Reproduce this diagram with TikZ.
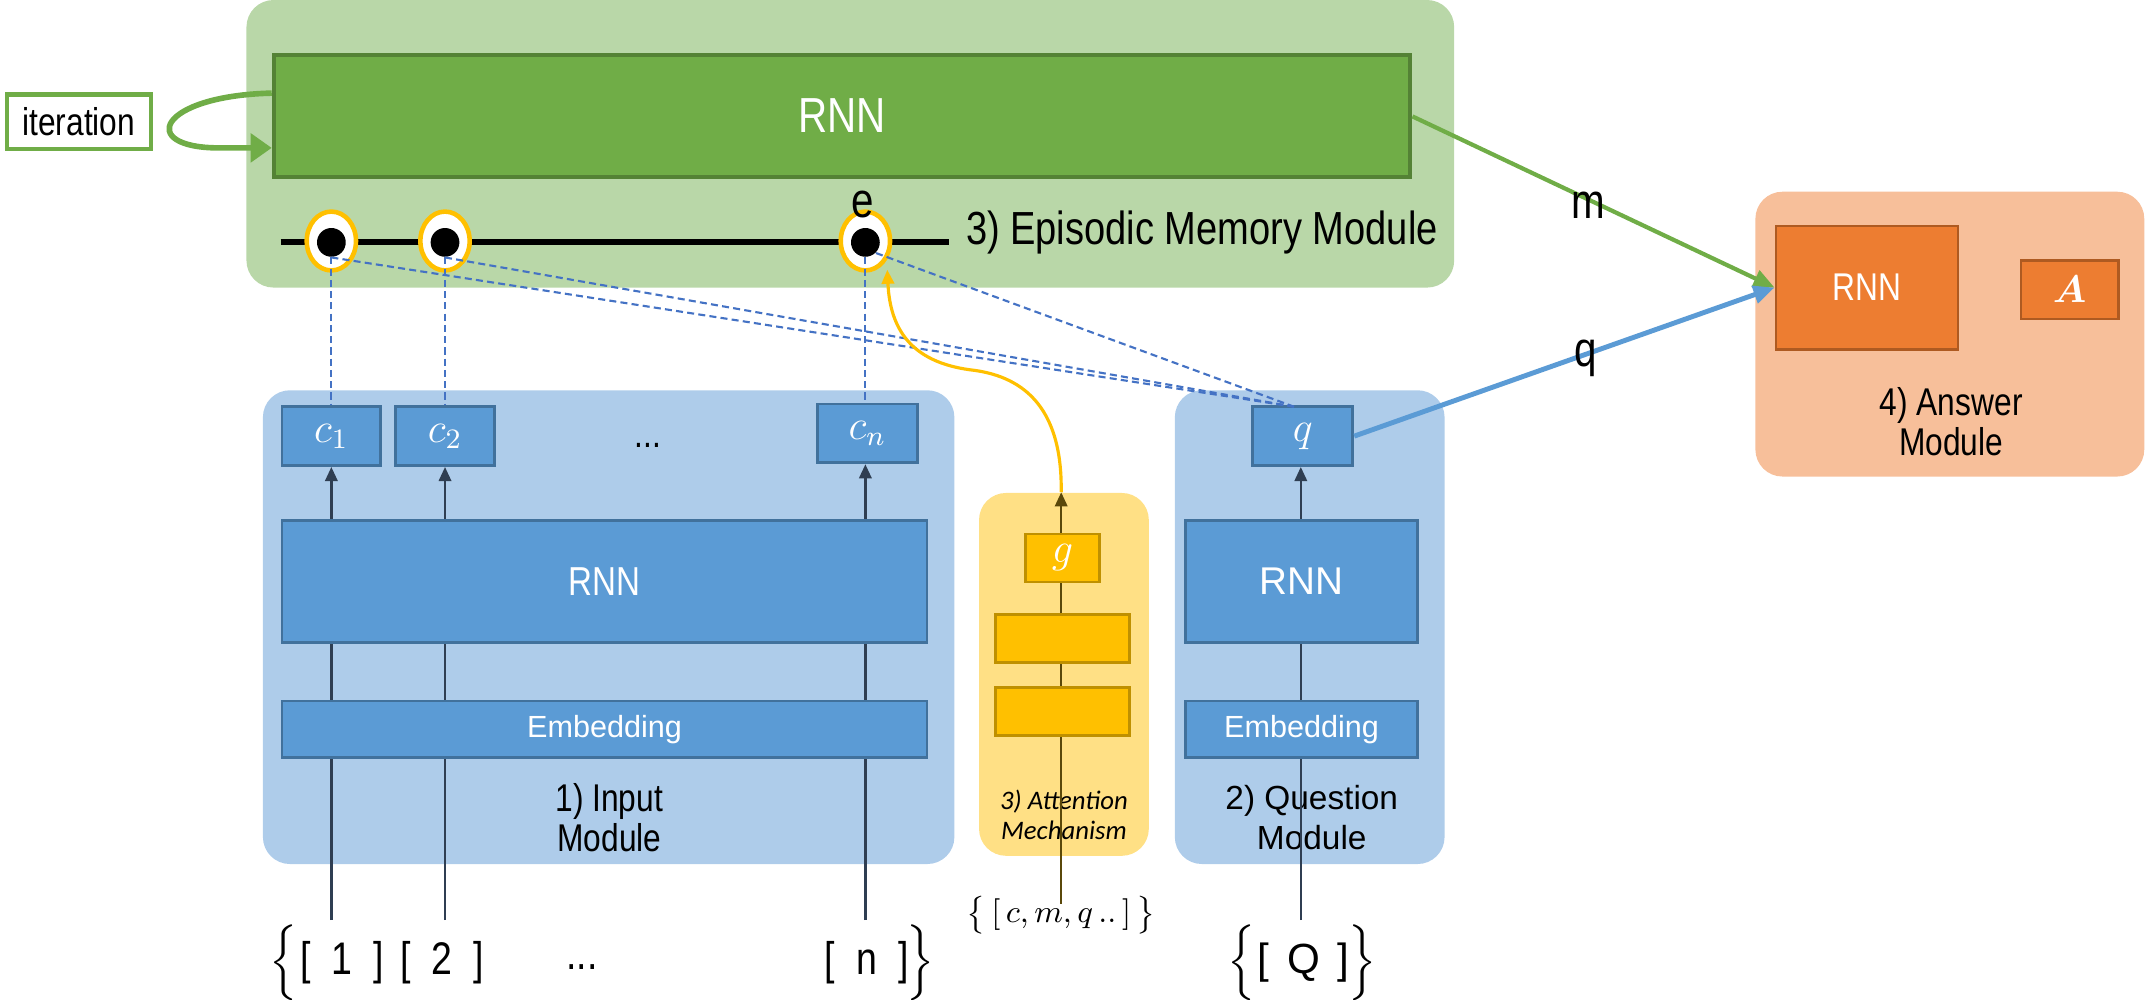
\documentclass[tikz,border=0pt]{standalone}
\usepackage{amsmath}
\usepackage{fontspec}
\setmainfont{Liberation Sans}
\newfontfamily\narrowfont[FakeStretch=0.82]{Liberation Sans}
\newfontfamily\calfont{Carlito}
\usepackage{tikz}
\usetikzlibrary{shapes.geometric, positioning}
\usetikzlibrary{arrows.meta}
\tikzset{>={Triangle[width=3.5pt,length=4pt]}}

\definecolor{epiback}{RGB}{185,215,168}
\definecolor{epigreen}{RGB}{112,173,71}
\definecolor{epiborder}{RGB}{84,130,53}
\definecolor{blueback}{RGB}{174,204,234}
\definecolor{boxblue}{RGB}{91,155,213}
\definecolor{blueborder}{RGB}{65,113,156}
\definecolor{attback}{RGB}{255,224,133}
\definecolor{gold}{RGB}{255,192,0}
\definecolor{goldborder}{RGB}{191,144,0}
\definecolor{ansback}{RGB}{247,191,154}
\definecolor{orangebox}{RGB}{237,125,49}
\definecolor{orangeborder}{RGB}{174,90,33}
\definecolor{dashblue}{RGB}{68,114,196}
\definecolor{flowdark}{RGB}{47,62,82}
\definecolor{attdark}{RGB}{90,72,10}

\newcommand{\pxu}{0.01369cm}

\begin{document}
\begin{tikzpicture}[x=\pxu, y=-\pxu, bg/.style={draw=none, rounded corners=0.27cm, inner sep=0}, bluebox/.style={draw=blueborder, fill=boxblue, line width=0.8pt, inner sep=0, text=white, font=\fontsize{11.5}{13}\selectfont}, goldbox/.style={draw=goldborder, fill=gold, line width=0.8pt, inner sep=0, text=white, font=\fontsize{11.5}{13}\selectfont}, orangebox/.style={draw=orangeborder, fill=orangebox, line width=0.8pt, inner sep=0, text=white}, labeltext/.style={align=center, inner sep=0, font=\narrowfont\fontsize{11}{11.5}\selectfont}, ring/.style={ellipse, draw=gold, fill=white, line width=1.3pt, minimum width=36*\pxu, minimum height=43*\pxu, inner sep=0}, blackdot/.style={circle, fill=black, minimum size=21*\pxu, inner sep=0}, flow/.style={draw=flowdark, line width=0.7pt}, dashline/.style={draw=dashblue, line width=0.6pt, dash pattern=on 2pt off 1.2pt}, tokentext/.style={inner sep=0, font=\narrowfont\fontsize{13}{15}\selectfont}]

    \useasboundingbox (0,0) rectangle (1568,730);

    %Backgrounds
    \node[bg, fill=epiback, minimum width=882*\pxu, minimum height=210*\pxu](epi) at (621,105){};
    \node[bg, fill=ansback, minimum width=284*\pxu, minimum height=208*\pxu](ans) at (1424,244){};
    \node[bg, fill=blueback, minimum width=505*\pxu, minimum height=346*\pxu](inmod) at (444.5,458){};
    \node[bg, fill=attback, minimum width=124*\pxu, minimum height=265*\pxu](attmod) at (777,492.5){};
    \node[bg, fill=blueback, minimum width=197*\pxu, minimum height=346*\pxu](qmod) at (956.5,458){};

    %Module labels
    \node[labeltext](inlabel) at (445,597){1) Input\\Module};
    \node[labeltext, font=\fontsize{9.5}{11.5}\selectfont](qlabel) at (958,597){2) Question\\Module};
    \node[labeltext, font=\calfont\itshape\fontsize{7.6}{8.6}\selectfont](attlabel) at (777,595){3) Attention\\Mechanism};
    \node[labeltext](anslabel) at (1425,308){4) Answer\\Module};
    \node[inner sep=0, anchor=west, font=\narrowfont\fontsize{13.2}{15}\selectfont](epilabel) at (705,170){3) Episodic Memory Module};

    %Episodic memory
    \node[draw=epiborder, fill=epigreen, line width=1.2pt, text=white, font=\narrowfont\fontsize{14}{16}\selectfont, minimum width=830*\pxu, minimum height=89*\pxu](rnnepi) at (615,84.5){RNN};
    \node[draw=epigreen, fill=white, line width=1.2pt, inner sep=0, font=\narrowfont\fontsize{11}{13}\selectfont, minimum width=105*\pxu, minimum height=40*\pxu](iter) at (57.5,89){iteration};
    \coordinate (linestart) at (205,177);
    \coordinate (lineend) at (693,177);
    \draw[line width=1.7pt] (linestart) -- (lineend);
    \node[ring](r1) at (242,176){};
    \node[ring](r2) at (325,176){};
    \node[ring](r3) at (632,176){};
    \node[blackdot](d1) at (242,177){};
    \node[blackdot](d2) at (325,177){};
    \node[blackdot](d3) at (632,177){};
    \node[inner sep=0, font=\narrowfont\fontsize{14}{16}\selectfont](elabel) at (630,149){e};

    %Input module
    \node[bluebox, minimum width=72*\pxu, minimum height=43*\pxu](c1) at (242,318.5){$c_1$};
    \node[bluebox, minimum width=72*\pxu, minimum height=43*\pxu](c2) at (325,318.5){$c_2$};
    \node[bluebox, minimum width=73*\pxu, minimum height=43*\pxu](cn) at (633.5,316.5){$c_n$};
    \node[inner sep=0, font=\narrowfont\fontsize{11}{13}\selectfont](cdots) at (473,325){...};
    \node[bluebox, font=\narrowfont\fontsize{11.5}{13}\selectfont, minimum width=471*\pxu, minimum height=89*\pxu](rnnin) at (441.5,424.5){RNN};
    \node[bluebox, font=\fontsize{8.7}{10}\selectfont, minimum width=471*\pxu, minimum height=41*\pxu](embin) at (441.5,532.5){Embedding};

    %Attention
    \node[goldbox, minimum width=54*\pxu, minimum height=35*\pxu](gbox) at (776,407.5){$g$};
    \node[goldbox, minimum width=98*\pxu, minimum height=35*\pxu](att1) at (776,466.5){};
    \node[goldbox, minimum width=98*\pxu, minimum height=35*\pxu](att2) at (776,519.5){};

    %Question module
    \node[bluebox, minimum width=73*\pxu, minimum height=43*\pxu](qbox) at (951.5,318.5){$q$};
    \node[bluebox, font=\fontsize{11}{13}\selectfont, minimum width=169*\pxu, minimum height=89*\pxu](rnnq) at (950.5,424.5){RNN};
    \node[bluebox, font=\fontsize{8.7}{10}\selectfont, minimum width=169*\pxu, minimum height=41*\pxu](embq) at (950.5,532.5){Embedding};

    %Answer module
    \node[orangebox, font=\narrowfont\fontsize{11}{13}\selectfont, minimum width=133*\pxu, minimum height=90*\pxu](rnnans) at (1363.5,210){RNN};
    \node[orangebox, font=\fontsize{11}{13}\selectfont, minimum width=71*\pxu, minimum height=43*\pxu](abox) at (1511.5,211.5){$\boldsymbol{A}$};

    %Inputs
    \node[tokentext](lbrace) at (207,703){$\Big\{$};
    \node[tokentext](tok1) at (250,703){[\hspace{6pt}1\hspace{6pt}]};
    \node[tokentext](tok2) at (323,703){[\hspace{6pt}2\hspace{6pt}]};
    \node[tokentext](tokdots) at (425,706){...};
    \node[tokentext](tokn) at (633,703){[\hspace{6pt}n\hspace{6pt}]};
    \node[tokentext](rbrace) at (672,703){$\Big\}$};
    \node[inner sep=0, font=\fontsize{9}{11}\selectfont](atttok) at (775,668){$\big\{\,[\,c,m,q\,..\,]\,\big\}$};
    \node[tokentext](qlbrace) at (907,703){$\Big\{$};
    \node[tokentext, font=\fontsize{12}{14}\selectfont](tokq) at (952,703){[\hspace{5pt}Q\hspace{5pt}]};
    \node[tokentext](qrbrace) at (995,703){$\Big\}$};

    %Lines
    \coordinate (in1) at (242,672);
    \coordinate (in2) at (325,672);
    \coordinate (inn) at (632,672);
    \coordinate (inq) at (950,672);
    \coordinate (inatt) at (775,660);
    \foreach \n in {1,2,n}{
        \draw[flow] (in\n) -- (in\n |- embin.south);
        \draw[flow] (in\n |- embin.north) -- (in\n |- rnnin.south);
        \draw[flow,->] (in\n |- rnnin.north) -- (in\n |- c\n.south);
    }
    \draw[flow] (inq) -- (inq |- embq.south);
    \draw[flow] (inq |- embq.north) -- (inq |- rnnq.south);
    \draw[flow,->] (inq |- rnnq.north) -- (inq |- qbox.south);
    \draw[draw=attdark, line width=0.7pt] (inatt) -- (inatt |- att2.south);
    \draw[draw=attdark, line width=0.7pt] (inatt |- att2.north) -- (inatt |- att1.south);
    \draw[draw=attdark, line width=0.7pt] (inatt |- att1.north) -- (inatt |- gbox.south);
    \draw[draw=attdark, line width=0.7pt, ->] (inatt |- gbox.north) -- (inatt |- attmod.north);

    %Dashed links
    \coordinate (qtop) at (945,297);
    \draw[dashline] (d1.south) -- (d1.south |- c1.north);
    \draw[dashline] (d2.south) -- (d2.south |- c2.north);
    \draw[dashline] (d3.south) -- (d3.south |- cn.north);
    \draw[dashline] (d1.south) -- (qtop);
    \draw[dashline] (d2.south) -- (qtop);
    \draw[dashline] (d3.south east) -- (qtop);

    %Attention to episode
    \coordinate (etip) at (648,197);
    \draw[draw=gold, line width=0.9pt, ->] (inatt |- attmod.north) .. controls (776,295) and (745,274) .. (708,270) .. controls (665,264) and (650,240) .. (etip);

    %Iteration loop
    \draw[draw=epigreen, line width=1.6pt, -{Triangle[width=8pt,length=6pt]}] (rnnepi.west |- 0,68) .. controls (115,70) and (100,108) .. (160,108) -- (rnnepi.west |- 0,108);

    %Memory and question to answer
    \draw[draw=epigreen, line width=1.2pt, -{Triangle[width=5pt,length=6pt]}] (rnnepi.east |- 0,85) -- (rnnans.west);
    \draw[draw=boxblue, line width=1.4pt, -{Triangle[width=5pt,length=6pt]}] (qbox.east) -- (rnnans.west);
    \node[inner sep=0, font=\narrowfont\fontsize{14}{16}\selectfont](mlabel) at (1160,150){m};
    \node[inner sep=0, font=\narrowfont\fontsize{14}{16}\selectfont](qarrowlabel) at (1158,262){q};

\end{tikzpicture}
\end{document}
